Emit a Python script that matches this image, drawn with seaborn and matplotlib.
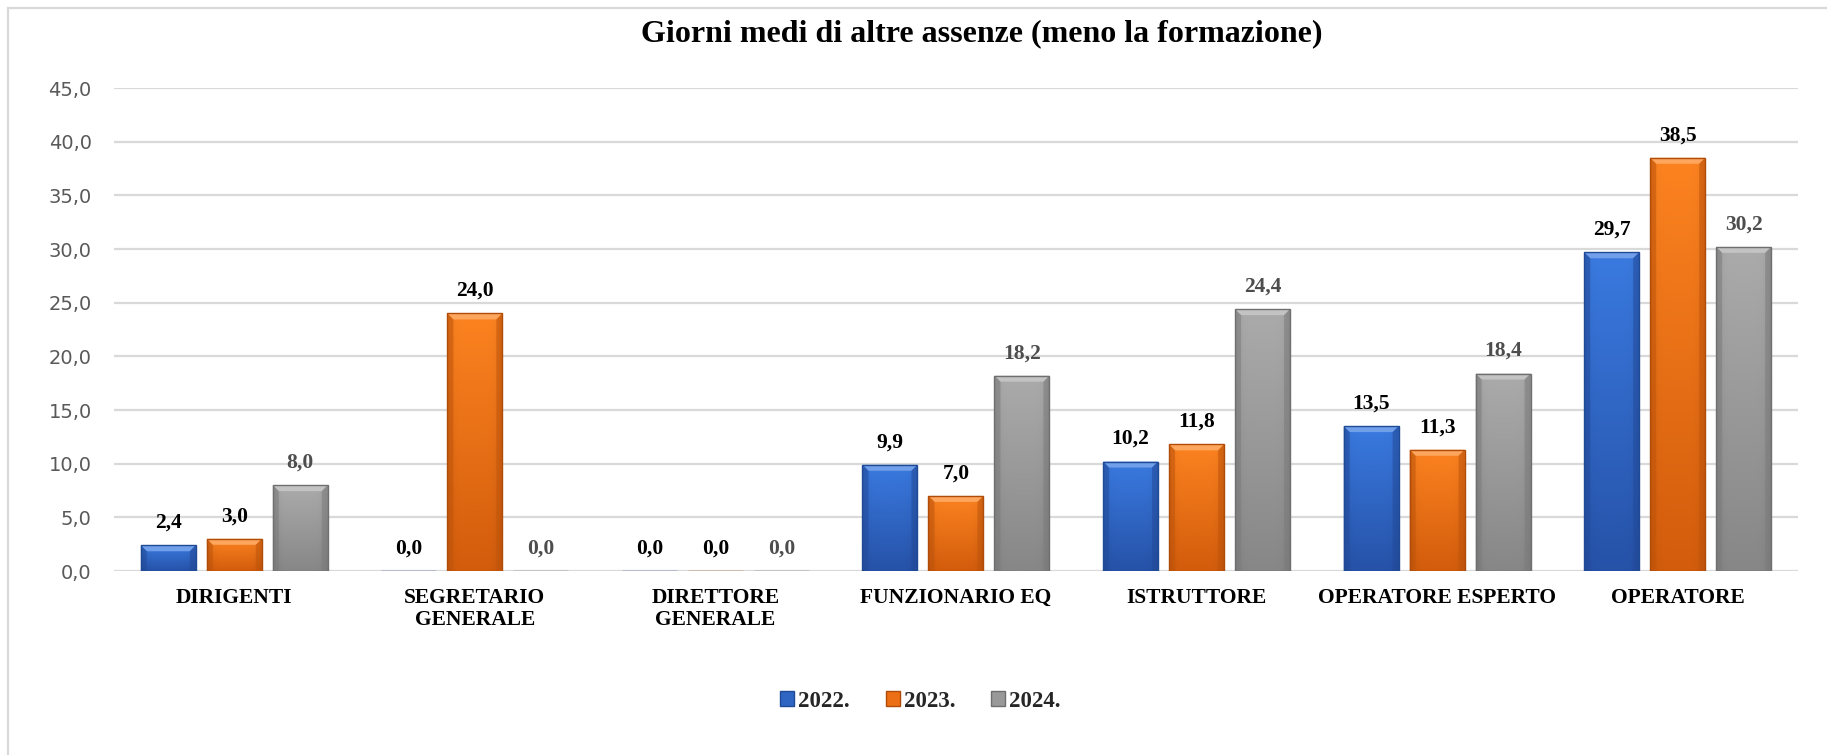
import numpy as np
import pandas as pd
import matplotlib
matplotlib.use("Agg")
import matplotlib.pyplot as plt
import matplotlib.colors as mcolors
from matplotlib.patches import Patch, Rectangle, Polygon
import seaborn as sns

# ---- data -------------------------------------------------------------
categorie = ["DIRIGENTI", "SEGRETARIO\nGENERALE", "DIRETTORE\nGENERALE",
             "FUNZIONARIO EQ", "ISTRUTTORE", "OPERATORE ESPERTO", "OPERATORE"]
anni = ["2022.", "2023.", "2024."]
valori_2022 = [2.4, 0.0, 0.0, 9.9, 10.2, 13.5, 29.7]
valori_2023 = [3.0, 24.0, 0.0, 7.0, 11.8, 11.3, 38.5]
valori_2024 = [8.0, 0.0, 0.0, 18.2, 24.4, 18.4, 30.2]
y_ticks = [0, 5, 10, 15, 20, 25, 30, 35, 40, 45]

df = pd.DataFrame({
    "categoria": categorie * 3,
    "anno": [a for a in anni for _ in categorie],
    "valore": valori_2022 + valori_2023 + valori_2024,
})

# ---- style ------------------------------------------------------------
sns.set_theme(style="white")
serif = ["Liberation Serif", "DejaVu Serif"]
sans = ["DejaVu Sans"]
plt.rcParams["font.family"] = serif

base = {"2022.": "#2f66c4", "2023.": "#ec6f16", "2024.": "#999999"}
grad_top = {"2022.": "#3a7ae0", "2023.": "#fd8320", "2024.": "#ababab"}
grad_bot = {"2022.": "#2652a8", "2023.": "#d25c0c", "2024.": "#878787"}
edge = {"2022.": "#1f4a96", "2023.": "#b04c08", "2024.": "#6f6f6f"}
label_col = {"2022.": "black", "2023.": "black", "2024.": "#4d4d4d"}

fig = plt.figure(figsize=(18.27, 7.55), dpi=100)
ax = fig.add_axes([0.0624, 0.2437, 0.9217, 0.6397])

sns.barplot(data=df, x="categoria", y="valore", hue="anno",
            order=categorie, hue_order=anni,
            palette=[base[a] for a in anni], saturation=1,
            width=0.823, gap=0.167, legend=False, ax=ax, zorder=3)

ax.set_xlim(-0.5, len(categorie) - 0.5)
ax.set_ylim(0, 45)

# pixel size of one data unit, used for the bevel width
bb = ax.get_window_extent()
px_x = bb.width / (len(categorie))
px_y = bb.height / 45.0
bevel = 6.0


def mix(c, other, f):
    c = np.array(mcolors.to_rgb(c))
    o = np.array(mcolors.to_rgb(other))
    return tuple(c * (1 - f) + o * f)


def shade_bar(patch, anno):
    x, y = patch.get_xy()
    w, h = patch.get_width(), patch.get_height()
    if h <= 0:
        return
    t = np.array(mcolors.to_rgb(grad_top[anno]))
    b = np.array(mcolors.to_rgb(grad_bot[anno]))
    v = np.linspace(0, 1, 200)[:, None, None]
    u = np.linspace(-1, 1, 60)[None, :, None]
    img = t * (1 - v) + b * v
    img = img * (1 - 0.12 * np.abs(u) ** 6)
    im = ax.imshow(np.clip(img, 0, 1), extent=[x, x + w, y, y + h],
                   origin="upper", aspect="auto", zorder=3.5,
                   interpolation="bilinear")
    im.set_clip_path(patch)
    dx = bevel / px_x
    dy = min(bevel / px_y, h / 2)
    top = y + h
    # lighter top bevel
    ax.add_patch(Polygon([(x, top), (x + w, top), (x + w - dx, top - dy),
                          (x + dx, top - dy)], closed=True,
                         facecolor=mix(grad_top[anno], "white", 0.28),
                         edgecolor="none", zorder=3.6))
    # darker side bevels
    for xs, xi in ((x, x + dx), (x + w, x + w - dx)):
        ax.add_patch(Polygon([(xs, top), (xi, top - dy), (xi, y), (xs, y)],
                             closed=True,
                             facecolor=mix(grad_bot[anno], "black", 0.08),
                             edgecolor="none", alpha=0.55, zorder=3.6))


for anno, cont in zip(anni, ax.containers):
    for p in cont.patches:
        p.set_edgecolor(edge[anno])
        p.set_linewidth(1.0)
        p.set_zorder(3.7)
        p.set_facecolor("none")
        shade_bar(p, anno)
    ax.bar_label(cont,
                 labels=[f"{v:.1f}".replace(".", ",") for v in cont.datavalues],
                 padding=9, fontsize=15.5, fontweight="bold",
                 color=label_col[anno], family=serif, zorder=5)

ax.set_xlim(-0.5, len(categorie) - 0.5)
ax.set_ylim(0, 45)
ax.set_yticks(y_ticks)
ax.set_yticklabels([f"{t:.1f}".replace(".", ",") for t in y_ticks],
                   family=sans, fontsize=14, color="#595959")
ax.set_xticks(range(len(categorie)))
ax.set_xticklabels(categorie, family=serif, fontsize=15.5,
                   fontweight="bold", color="black", linespacing=1.18)
ax.tick_params(axis="y", length=0, pad=16)
ax.tick_params(axis="x", length=0, pad=12)
ax.set_xlabel("")
ax.set_ylabel("")
ax.grid(axis="y", color="#d9d9d9", linewidth=1.6, zorder=0)
ax.set_axisbelow(True)
for s in ax.spines.values():
    s.set_visible(False)

# outer frame (left and top edges)
fig.add_artist(Rectangle((8 / 1827, -0.2), 1.2, 1.2 - 8 / 755,
                         transform=fig.transFigure, fill=False,
                         edgecolor="#d9d9d9", linewidth=1.6))

fig.text(0.5375, 0.956, "Giorni medi di altre assenze (meno la formazione)",
         ha="center", va="center", fontsize=23, fontweight="bold",
         family=serif, color="black")

handles = [Patch(facecolor=base[a], edgecolor=edge[a], label=a) for a in anni]
leg = fig.legend(handles=handles, loc="center", ncol=3,
                 bbox_to_anchor=(0.5037, 0.0715), frameon=False,
                 prop={"family": serif, "weight": "bold", "size": 16.5},
                 handlelength=0.61, handleheight=0.6, handletextpad=0.17,
                 columnspacing=1.57)

fig.savefig("out.png", dpi=100, facecolor="white")
